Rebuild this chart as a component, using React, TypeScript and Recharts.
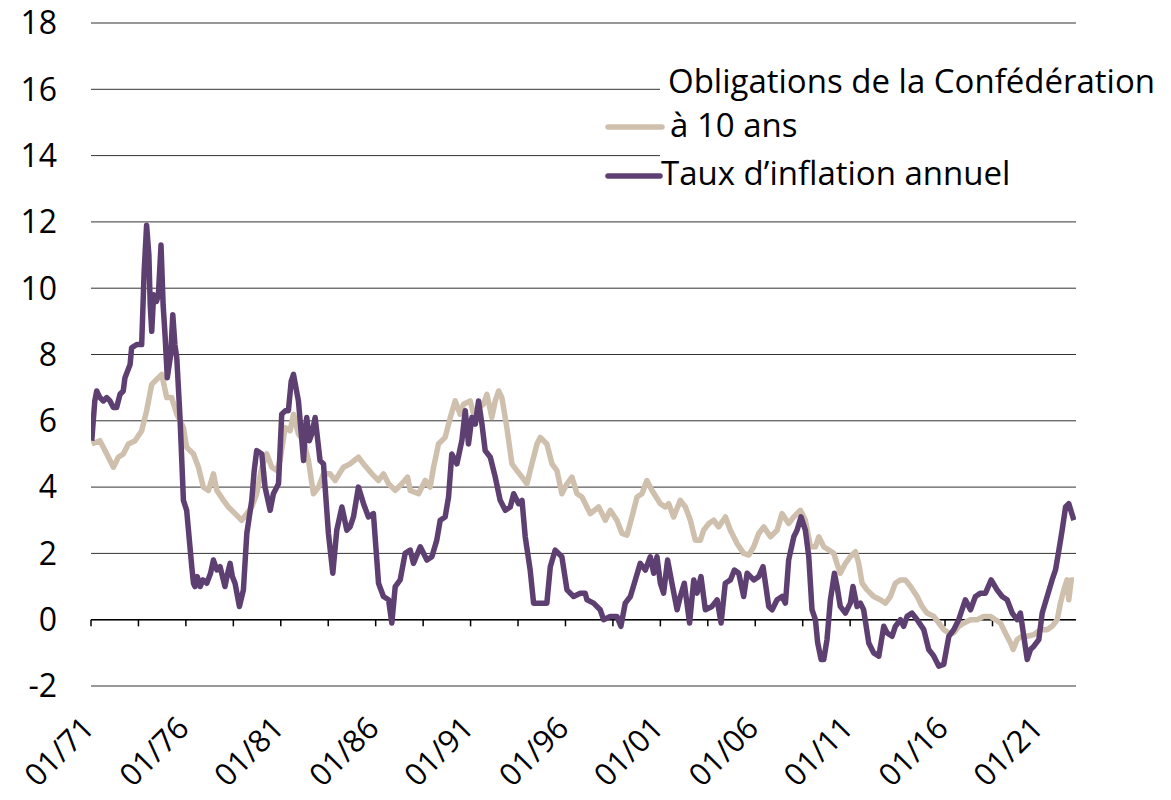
import React from 'react';
import { LineChart, Line, XAxis, YAxis, CartesianGrid, ReferenceLine, Legend } from 'recharts';

const inflTimes = [1971.04,1971.2,1971.3,1971.47,1971.65,1971.83,1972.0,1972.18,1972.35,1972.53,1972.7,1972.79,1973.06,1973.14,1973.41,1973.67,1973.8,1973.93,1974.05,1974.12,1974.2,1974.3,1974.45,1974.55,1974.69,1974.8,1974.9,1975.02,1975.2,1975.31,1975.42,1975.52,1975.69,1975.87,1976.04,1976.31,1976.4,1976.48,1976.6,1976.75,1976.9,1977.1,1977.3,1977.45,1977.63,1977.8,1978.06,1978.2,1978.33,1978.45,1978.59,1978.82,1979.03,1979.21,1979.47,1979.6,1979.73,1980.0,1980.17,1980.44,1980.61,1980.88,1981.05,1981.23,1981.4,1981.55,1981.67,1981.8,1981.93,1982.2,1982.3,1982.37,1982.5,1982.63,1982.81,1982.95,1983.07,1983.25,1983.51,1983.74,1983.95,1984.22,1984.48,1984.65,1984.83,1985.09,1985.36,1985.62,1985.88,1986.15,1986.41,1986.68,1986.85,1987.03,1987.29,1987.55,1987.82,1987.99,1988.35,1988.7,1988.96,1989.22,1989.4,1989.66,1989.84,1990.01,1990.28,1990.54,1990.72,1990.89,1991.07,1991.25,1991.42,1991.6,1991.77,1992.04,1992.3,1992.56,1992.83,1993.09,1993.27,1993.53,1993.71,1993.88,1994.14,1994.32,1994.67,1995.02,1995.2,1995.46,1995.81,1996.08,1996.43,1996.78,1997.04,1997.13,1997.48,1997.83,1998.01,1998.36,1998.71,1998.92,1999.15,1999.42,1999.68,1999.94,2000.21,2000.47,2000.65,2000.82,2001.0,2001.17,2001.38,2001.61,2001.88,2002.05,2002.26,2002.54,2002.76,2002.93,2003.14,2003.37,2003.72,2003.99,2004.2,2004.42,2004.69,2004.9,2005.13,2005.39,2005.57,2005.92,2006.18,2006.41,2006.71,2006.89,2007.15,2007.41,2007.59,2007.76,2008.03,2008.2,2008.41,2008.64,2008.82,2008.99,2009.17,2009.29,2009.47,2009.61,2009.78,2009.96,2010.17,2010.31,2010.48,2010.75,2011.01,2011.15,2011.36,2011.54,2011.71,2011.98,2012.24,2012.51,2012.77,2012.95,2013.21,2013.38,2013.65,2013.82,2014.0,2014.26,2014.53,2014.88,2015.14,2015.41,2015.67,2015.93,2016.2,2016.46,2016.72,2017.07,2017.34,2017.6,2017.87,2018.13,2018.43,2018.74,2019.01,2019.27,2019.54,2019.8,2019.97,2020.15,2020.33,2020.5,2020.68,2020.94,2021.12,2021.38,2021.64,2021.82,2022.0,2022.17,2022.35,2022.52,2022.79];
const inflValues = [5.4,6.6,6.9,6.7,6.6,6.7,6.6,6.4,6.4,6.8,6.9,7.3,7.7,8.2,8.3,8.3,10.5,11.9,11.0,9.5,8.7,9.8,9.6,9.8,11.3,9.5,8.6,7.3,8.0,9.2,8.3,7.9,6.1,3.6,3.3,1.6,1.1,1.0,1.3,1.0,1.2,1.1,1.4,1.8,1.5,1.6,1.0,1.4,1.7,1.3,1.1,0.4,0.9,2.6,3.6,4.5,5.1,5.0,4.0,3.3,3.8,4.1,6.2,6.3,6.3,7.2,7.4,7.0,6.6,4.8,5.8,6.1,5.4,5.6,6.1,5.4,4.8,4.7,2.6,1.4,2.7,3.4,2.7,2.8,3.1,4.0,3.5,3.1,3.2,1.1,0.7,0.6,-0.1,1.0,1.2,2.0,2.1,1.7,2.2,1.8,1.9,2.4,3.0,3.1,3.7,5.0,4.7,5.4,6.3,5.3,6.1,5.9,6.6,5.9,5.1,4.9,4.3,3.6,3.3,3.4,3.8,3.5,3.6,2.5,1.5,0.5,0.5,0.5,1.6,2.1,1.9,0.9,0.7,0.8,0.8,0.6,0.5,0.3,0.0,0.1,0.1,-0.2,0.5,0.7,1.2,1.7,1.5,1.9,1.4,1.9,1.1,0.8,1.8,1.1,0.3,0.7,1.1,-0.1,1.2,0.8,1.3,0.3,0.4,0.6,-0.1,1.1,1.2,1.5,1.4,0.7,1.4,1.2,1.3,1.6,0.4,0.3,0.6,0.7,0.5,1.8,2.5,2.7,3.1,2.7,1.9,0.3,0.0,-0.7,-1.2,-1.2,-0.6,0.6,1.4,1.0,0.4,0.2,0.5,1.0,0.4,0.5,0.3,-0.7,-1.0,-1.1,-0.2,-0.4,-0.5,-0.2,0.0,-0.2,0.1,0.2,0.0,-0.3,-0.9,-1.1,-1.4,-1.35,-0.5,-0.3,0.0,0.6,0.3,0.7,0.8,0.8,1.2,0.9,0.7,0.6,0.2,0.0,0.2,-0.5,-1.2,-0.9,-0.8,-0.6,0.2,0.7,1.2,1.5,2.1,2.7,3.4,3.5,3.0];

const bondTimes = [1971.04,1971.47,1971.83,1972.18,1972.44,1972.7,1972.97,1973.32,1973.67,1973.93,1974.2,1974.55,1974.73,1974.99,1975.25,1975.52,1975.87,1976.04,1976.4,1976.66,1976.92,1977.19,1977.45,1977.63,1977.98,1978.24,1978.59,1978.94,1979.21,1979.47,1979.73,1980.0,1980.26,1980.53,1980.79,1980.96,1981.23,1981.49,1981.67,1981.93,1982.2,1982.46,1982.72,1982.99,1983.25,1983.6,1983.86,1984.3,1984.65,1985.09,1985.36,1985.8,1986.15,1986.41,1986.68,1987.03,1987.38,1987.68,1987.82,1988.26,1988.61,1988.87,1989.05,1989.31,1989.66,1989.93,1990.19,1990.45,1990.63,1990.98,1991.16,1991.42,1991.68,1991.86,1992.12,1992.3,1992.48,1992.65,1992.91,1993.18,1993.44,1993.71,1993.97,1994.23,1994.5,1994.67,1995.02,1995.29,1995.55,1995.81,1996.08,1996.34,1996.61,1996.87,1997.13,1997.31,1997.75,1998.1,1998.36,1998.71,1998.98,1999.24,1999.5,1999.77,2000.03,2000.29,2000.56,2001.0,2001.26,2001.44,2001.7,2002.05,2002.32,2002.58,2002.84,2003.11,2003.28,2003.55,2003.81,2004.07,2004.43,2004.69,2005.04,2005.39,2005.66,2005.92,2006.18,2006.45,2006.8,2007.15,2007.41,2007.76,2008.03,2008.38,2008.64,2008.91,2009.17,2009.35,2009.61,2009.87,2010.14,2010.3,2010.48,2010.75,2011.01,2011.28,2011.45,2011.63,2011.89,2012.24,2012.59,2012.86,2013.12,2013.38,2013.65,2013.91,2014.18,2014.53,2014.79,2015.05,2015.41,2015.67,2015.93,2016.2,2016.46,2016.72,2016.99,2017.34,2017.69,2018.04,2018.39,2018.66,2018.92,2019.18,2019.45,2019.59,2019.8,2020.06,2020.33,2020.68,2021.03,2021.38,2021.64,2021.91,2022.08,2022.26,2022.43,2022.52,2022.65,2022.79];
const bondValues = [5.3,5.4,5.0,4.6,4.9,5.0,5.3,5.4,5.7,6.3,7.1,7.3,7.4,6.7,6.7,6.2,5.8,5.2,5.0,4.6,4.0,3.9,4.4,3.9,3.6,3.4,3.2,3.0,3.2,3.4,3.8,4.6,5.0,4.6,4.5,4.8,5.8,5.7,6.2,5.6,5.4,4.8,3.8,4.0,4.4,4.4,4.2,4.6,4.7,4.9,4.7,4.4,4.2,4.4,4.1,3.9,4.1,4.3,3.9,3.8,4.2,4.0,4.6,5.3,5.5,6.1,6.6,6.2,6.5,6.6,6.2,6.4,6.5,6.8,6.1,6.6,6.9,6.7,5.8,4.7,4.5,4.3,4.1,4.7,5.3,5.5,5.3,4.7,4.5,3.8,4.1,4.3,3.8,3.7,3.4,3.2,3.4,3.0,3.3,3.0,2.6,2.55,3.1,3.7,3.8,4.2,3.9,3.5,3.4,3.5,3.1,3.6,3.4,3.0,2.4,2.4,2.7,2.9,3.0,2.8,3.1,2.7,2.3,2.0,1.95,2.2,2.6,2.8,2.5,2.7,3.2,2.9,3.1,3.3,3.0,2.2,2.2,2.5,2.2,2.1,2.0,1.7,1.4,1.7,1.9,2.05,1.7,1.1,0.9,0.7,0.6,0.5,0.7,1.1,1.2,1.2,1.0,0.7,0.4,0.2,0.1,-0.1,-0.3,-0.4,-0.4,-0.2,-0.1,0.0,0.0,0.1,0.1,0.0,-0.1,-0.4,-0.7,-0.9,-0.6,-0.5,-0.5,-0.45,-0.3,-0.3,-0.2,0.0,0.5,0.9,1.2,0.6,1.2,1.2];

const yTicks = [-2, 0, 2, 4, 6, 8, 10, 12, 14, 16, 18];
const xTicks = [1971, 1973.5, 1976, 1978.5, 1981, 1983.5, 1986, 1988.5, 1991, 1993.5, 1996, 1998.5, 2001, 2003.5, 2006, 2008.5, 2011, 2013.5, 2016, 2018.5, 2021];
const labelYears = [1971, 1976, 1981, 1986, 1991, 1996, 2001, 2006, 2011, 2016, 2021];

const bondName = 'Obligations de la Confédération à 10 ans';
const inflName = 'Taux d\u2019inflation annuel';

const inflData = inflTimes.map((t, i) => ({ t, v: inflValues[i] }));
const bondData = bondTimes.map((t, i) => ({ t, v: bondValues[i] }));

const PURPLE = '#5E3F72';
const BEIGE = '#CFBFAD';
const FONT = '"Open Sans", sans-serif';
const FS = 32;
const LFS = 33;

const XTick = (props: any) => {
  const { x, y, payload } = props;
  const yr = payload.value;
  if (!labelYears.includes(yr)) return null;
  const label = '01/' + String(yr % 100).padStart(2, '0');
  const ax = x + 5;
  const ay = y + 44;
  return (
    <text x={ax} y={ay} transform={`rotate(-45, ${ax}, ${ay})`} textAnchor="end" fontSize={FS - 1} fontFamily={FONT} fill="#000">
      {label}
    </text>
  );
};

const LegendContent = () => (
  <svg width={571} height={155} style={{ display: 'block' }}>
    <rect x={60} y={0} width={511} height={150} fill="#fff" />
    <line x1={8} x2={62} y1={77} y2={77} stroke={BEIGE} strokeWidth={5.5} strokeLinecap="round" />
    <line x1={8} x2={60} y1={126} y2={126} stroke={PURPLE} strokeWidth={5.5} strokeLinecap="round" />
    <text x={68} y={43} fontSize={LFS} fontFamily={FONT} fill="#000">Obligations de la Confédération</text>
    <text x={70} y={87} fontSize={LFS} fontFamily={FONT} fill="#000">à 10 ans</text>
    <text x={61} y={135} fontSize={LFS} fontFamily={FONT} fill="#000">{inflName}</text>
  </svg>
);

export default function App() {
  return (
    <div style={{ width: 1163, height: 784, marginTop: -8, overflow: 'visible' }}>
      <LineChart width={1163} height={800} margin={{ top: 23, right: 95, bottom: 0, left: 0 }}>
        <CartesianGrid horizontal vertical={false} stroke="#333" strokeWidth={1} />
        <XAxis
          type="number"
          dataKey="t"
          domain={[1971, 2022.9]}
          ticks={xTicks}
          allowDataOverflow
          axisLine={false}
          tickLine={false}
          tickSize={0}
          tickMargin={0}
          height={114}
          interval={0}
          tick={<XTick />}
        />
        <YAxis
          type="number"
          domain={[-2, 18]}
          ticks={yTicks}
          axisLine={false}
          tickLine={false}
          tickSize={0}
          tickMargin={34}
          width={83}
          interval={0}
          tick={{ fontSize: FS, fontFamily: FONT, fill: '#000' }}
        />
        <ReferenceLine y={0} stroke="#000" strokeWidth={1.5} />
        {xTicks.map((t) => (
          <ReferenceLine key={t} segment={[{ x: t, y: 0 }, { x: t, y: -0.2 }]} stroke="#000" strokeWidth={1.5} />
        ))}
        <Line data={bondData} dataKey="v" name={bondName} type="linear" stroke={BEIGE} strokeWidth={5.5} dot={false} strokeLinejoin="round" isAnimationActive={false} />
        <Line data={inflData} dataKey="v" name={inflName} type="linear" stroke={PURPLE} strokeWidth={5.5} dot={false} strokeLinejoin="round" isAnimationActive={false} />
        <Legend
          layout="vertical"
          align="center"
          verticalAlign="middle"
          content={<LegendContent />}
          wrapperStyle={{ position: 'absolute', left: 592, top: 50, width: 571, height: 155 }}
        />
      </LineChart>
    </div>
  );
}
